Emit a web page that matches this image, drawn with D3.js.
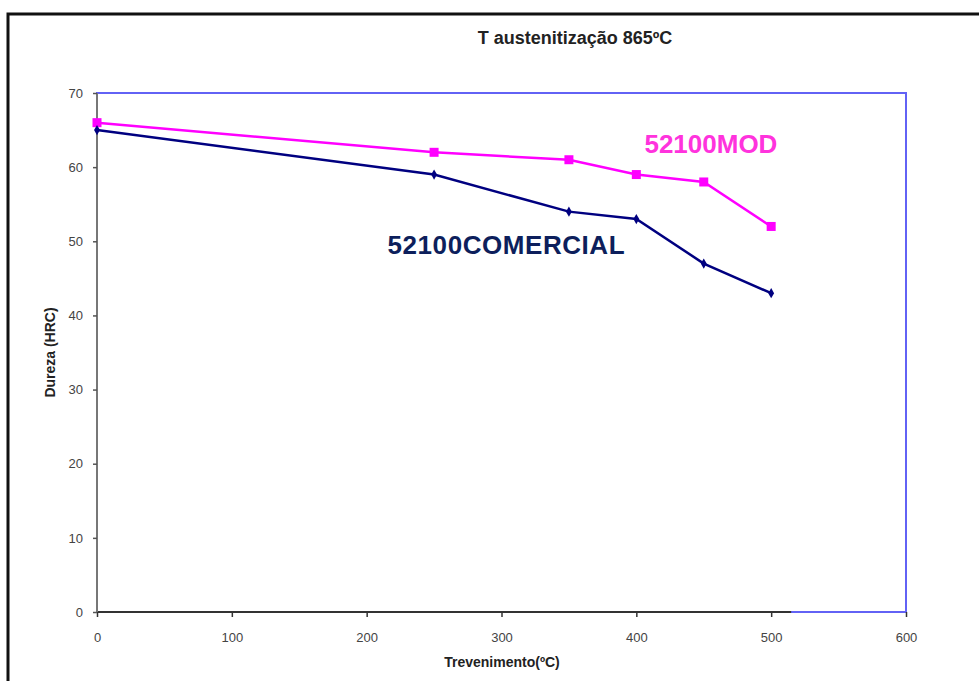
<!DOCTYPE html>
<html>
<head>
<meta charset="utf-8">
<script src="https://cdn.jsdelivr.net/npm/d3@7"></script>
<style>
body{margin:0;background:#fff;}
svg{display:block;font-family:Arial,"Liberation Sans",sans-serif;}
</style>
</head>
<body>
<div id="chart"></div>
<script>
// tempering temperature (C) and hardness (HRC)
var temps = [0, 250, 350, 400, 450, 500];
var hrcMod = [66, 62, 61, 59, 58, 52];
var hrcComercial = [65, 59, 54, 53, 47, 43];
var xTicks = [0, 100, 200, 300, 400, 500, 600];
var yTicks = [0, 10, 20, 30, 40, 50, 60, 70];

var width = 979, height = 681;
var plot = {left: 97, right: 906, top: 93, bottom: 612};

var svg = d3.select("#chart").append("svg")
    .attr("width", width).attr("height", height);

// outer frame
svg.append("rect")
    .attr("x", 8).attr("y", 14)
    .attr("width", 1000).attr("height", 700)
    .attr("fill", "none").attr("stroke", "#111").attr("stroke-width", 3);

var xScale = d3.scaleLinear().domain([0, 600]).range([plot.left, plot.right]);
var yScale = d3.scaleLinear().domain([0, 70]).range([plot.bottom, plot.top]);

// plot frame (blue)
svg.append("rect")
    .attr("x", plot.left).attr("y", plot.top)
    .attr("width", plot.right - plot.left).attr("height", plot.bottom - plot.top)
    .attr("fill", "none").attr("stroke", "#6262f5").attr("stroke-width", 2);

var xAxis = d3.axisBottom(xScale).tickValues(xTicks).tickSize(5).tickPadding(16);
var yAxis = d3.axisLeft(yScale).tickValues(yTicks).tickSize(4).tickPadding(10);

var gx = svg.append("g")
    .attr("class", "axis x-axis")
    .attr("transform", "translate(0," + plot.bottom + ")")
    .call(xAxis);
gx.select(".domain").attr("d", "M" + plot.left + ",0H" + (xScale(500) + 20))
    .attr("stroke", "#333").attr("stroke-width", 2);
gx.selectAll(".tick line").attr("stroke", "#333").attr("stroke-width", 1.5);

var gy = svg.append("g")
    .attr("class", "axis y-axis")
    .attr("transform", "translate(" + plot.left + ",0)")
    .call(yAxis);
gy.select(".domain").attr("d", "M0," + plot.top + "V" + plot.bottom)
    .attr("stroke", "#777").attr("stroke-width", 2);
gy.selectAll(".tick line").attr("stroke", "#555").attr("stroke-width", 1.5);

svg.selectAll(".axis text")
    .attr("font-size", 13)
    .attr("font-family", "Arial, 'Liberation Sans', sans-serif")
    .attr("fill", "#444");

// series
var line = d3.line()
    .x(function(d){return xScale(d[0])})
    .y(function(d){return yScale(d[1])});

var modData = temps.map(function(t, i){return [t, hrcMod[i]]});
var comData = temps.map(function(t, i){return [t, hrcComercial[i]]});

svg.append("path").datum(modData)
    .attr("d", line).attr("fill", "none")
    .attr("stroke", "#ff00ff").attr("stroke-width", 2.5);
svg.selectAll("rect.mod").data(modData).enter().append("rect")
    .attr("class", "mod")
    .attr("x", function(d){return xScale(d[0]) - 4.5})
    .attr("y", function(d){return yScale(d[1]) - 4.5})
    .attr("width", 9).attr("height", 9)
    .attr("fill", "#ff00ff");

svg.append("path").datum(comData)
    .attr("d", line).attr("fill", "none")
    .attr("stroke", "#000080").attr("stroke-width", 2.5);
svg.selectAll("path.com").data(comData).enter().append("path")
    .attr("class", "com")
    .attr("d", d3.symbol().type(d3.symbolDiamond).size(30))
    .attr("transform", function(d){return "translate(" + xScale(d[0]) + "," + yScale(d[1]) + ")"})
    .attr("fill", "#000080");

// series labels
svg.append("text")
    .attr("x", xScale(406)).attr("y", yScale(61.9))
    .attr("font-size", 26).attr("font-weight", "bold")
    .attr("fill", "#ff33dd")
    .text("52100MOD");
svg.append("text")
    .attr("x", xScale(215.5)).attr("y", yScale(48.3))
    .attr("font-size", 26).attr("font-weight", "bold")
    .attr("fill", "#0d1f5c")
    .attr("textLength", 237)
    .text("52100COMERCIAL");

// titles
svg.append("text")
    .attr("x", 575).attr("y", 44)
    .attr("text-anchor", "middle")
    .attr("font-size", 18).attr("font-weight", "bold")
    .attr("fill", "#222")
    .text("T austenitização 865ºC");

svg.append("text")
    .attr("x", 502).attr("y", 667)
    .attr("text-anchor", "middle")
    .attr("font-size", 14).attr("font-weight", "bold")
    .attr("fill", "#222")
    .text("Trevenimento(ºC)");

svg.append("text")
    .attr("transform", "translate(55," + ((plot.top + plot.bottom) / 2) + ") rotate(-90)")
    .attr("text-anchor", "middle")
    .attr("font-size", 14).attr("font-weight", "bold")
    .attr("fill", "#222")
    .text("Dureza (HRC)");
</script>
</body>
</html>
